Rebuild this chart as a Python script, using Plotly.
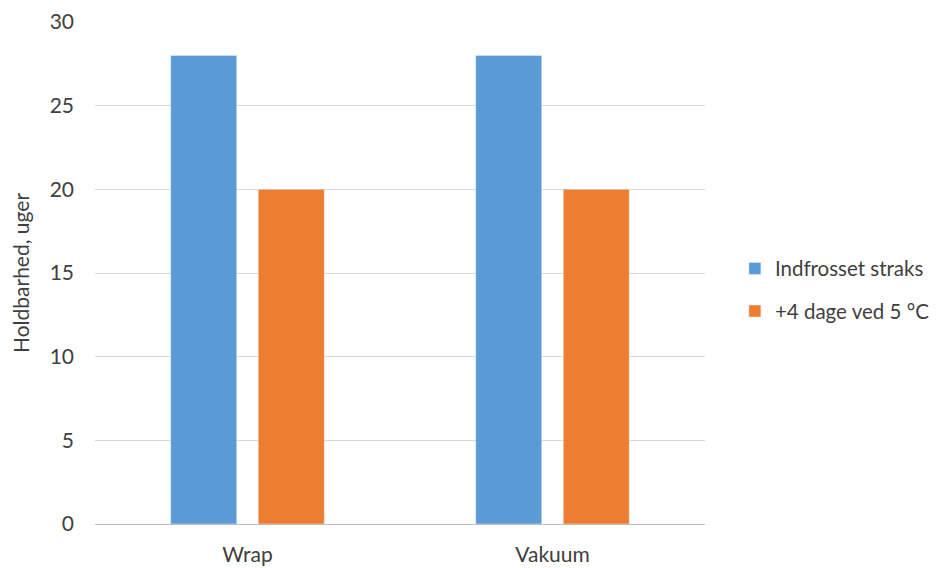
import plotly.graph_objects as go

categories = ["Wrap", "Vakuum"]
series_names = ["Indfrosset straks", "+4 dage ved 5 °C"]
values_straks = [28, 28]
values_4dage = [20, 20]
colors = ["#5B9BD5", "#ED7D31"]

fig = go.Figure()
fig.add_trace(go.Bar(x=categories, y=values_straks, name=series_names[0],
                     marker_color=colors[0], legendgroup="a"))
fig.add_trace(go.Bar(x=categories, y=values_4dage, name=series_names[1],
                     marker_color=colors[1], legendgroup="b"))

font_family = "Lato, 'Open Sans', sans-serif"
fig.update_layout(
    width=940, height=568,
    margin=dict(l=87, r=243, t=14, b=52),
    paper_bgcolor="white", plot_bgcolor="white",
    barmode="group", bargap=0.426, bargroupgap=0.246,
    font=dict(family=font_family, size=21, color="#404040"),
    legend=dict(x=1.049, y=0.466, xanchor="left", yanchor="middle",
                font=dict(size=20.5, color="#404040"), tracegroupgap=13,
                itemwidth=30),
    showlegend=True,
)
fig.update_yaxes(range=[0, 30], dtick=5, showgrid=True, gridcolor="#D9D9D9",
                 gridwidth=1, zeroline=False, showline=False, automargin=False,
                 ticklabelstandoff=20,
                 title=dict(text="Holdbarhed, uger", standoff=14,
                            font=dict(size=21, color="#404040")))
fig.update_xaxes(showline=True, linecolor="#BFBFBF", linewidth=1, automargin=False,
                 ticklabelstandoff=12, showgrid=False)

fig.write_html("out.html")
